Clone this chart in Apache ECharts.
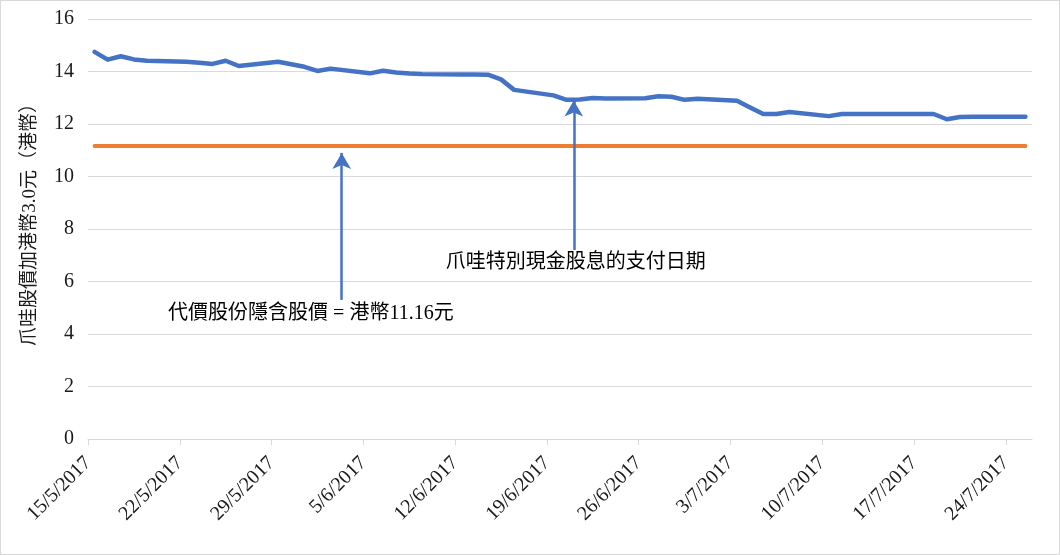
<!DOCTYPE html>
<html>
<head>
<meta charset="utf-8">
<script src="https://cdn.jsdelivr.net/npm/echarts@6/dist/echarts.min.js"></script>
<style>
  html, body { margin: 0; padding: 0; background: #fff; }
  #chart { width: 1058px; height: 553px; border: 1px solid #d9d9d9; }
</style>
</head>
<body>
<div id="chart"></div>
<script>
// trading days (HK), 2017
const tradeDates = [
  '2017-05-15', '2017-05-16', '2017-05-17', '2017-05-18', '2017-05-19',
  '2017-05-22', '2017-05-23', '2017-05-24', '2017-05-25', '2017-05-26',
  '2017-05-29', '2017-05-31', '2017-06-01', '2017-06-02',
  '2017-06-05', '2017-06-06', '2017-06-07', '2017-06-08', '2017-06-09',
  '2017-06-12', '2017-06-13', '2017-06-14', '2017-06-15', '2017-06-16',
  '2017-06-19', '2017-06-20', '2017-06-21', '2017-06-22', '2017-06-23',
  '2017-06-26', '2017-06-27', '2017-06-28', '2017-06-29', '2017-06-30',
  '2017-07-03', '2017-07-04', '2017-07-05', '2017-07-06', '2017-07-07',
  '2017-07-10', '2017-07-11', '2017-07-12', '2017-07-13', '2017-07-14',
  '2017-07-17', '2017-07-18', '2017-07-19', '2017-07-20', '2017-07-21',
  '2017-07-24', '2017-07-25',
];
// 爪哇股價加港幣3.0元
const prices = [
  14.75, 14.45, 14.58, 14.46, 14.41,
  14.37, 14.33, 14.29, 14.41, 14.21,
  14.37, 14.18, 14.02, 14.11,
  13.93, 14.03, 13.96, 13.92, 13.90,
  13.89, 13.89, 13.88, 13.70, 13.30,
  13.09, 12.92, 12.93, 12.99, 12.97,
  12.98, 13.06, 13.04, 12.92, 12.96,
  12.89, 12.63, 12.38, 12.38, 12.46,
  12.30, 12.38, 12.38, 12.38, 12.38,
  12.38, 12.38, 12.18, 12.27, 12.28,
  12.28, 12.28,
];
const impliedPrice = 11.16;
const firstDay = '2017-05-15';
const weekTicks = [0, 7, 14, 21, 28, 35, 42, 49, 56, 63, 70];
const payDate = '2017-06-21';

const dayMs = 24 * 3600 * 1000;
const base = new Date(firstDay + 'T00:00:00Z').getTime();
// each trading day sits in the middle of its day slot
const dayPos = (s) => (new Date(s + 'T00:00:00Z').getTime() - base) / dayMs + 0.5;

const priceData = tradeDates.map((d, i) => [dayPos(d), prices[i]]);
const impliedData = tradeDates.map((d) => [dayPos(d), impliedPrice]);

const chart = echarts.init(document.getElementById('chart'));
const serif = '"Liberation Serif", "Noto Sans CJK TC", serif';

chart.setOption({
  animation: false,
  grid: { left: 87, right: 27, top: 18, bottom: 115 },
  xAxis: {
    type: 'value',
    min: 0,
    max: 72,
    axisLine: { lineStyle: { color: '#d9d9d9', width: 1 } },
    axisTick: { show: true, length: 6, lineStyle: { color: '#d9d9d9' }, customValues: weekTicks },
    splitLine: { show: false },
    axisLabel: {
      customValues: weekTicks,
      rotate: 45,
      margin: 21,
      color: '#1a1a1a',
      fontSize: 20,
      fontFamily: serif,
      formatter(v) {
        const dt = new Date(base + v * dayMs);
        return `${dt.getUTCDate()}/${dt.getUTCMonth() + 1}/${dt.getUTCFullYear()}`;
      },
    },
  },
  yAxis: {
    type: 'value',
    min: 0,
    max: 16,
    interval: 2,
    name: '爪哇股價加港幣3.0元（港幣）',
    nameLocation: 'middle',
    nameGap: 48,
    nameRotate: 90,
    nameTextStyle: { fontSize: 19, color: '#1a1a1a', fontFamily: serif, padding: [0, 0, 0, 18] },
    axisLine: { show: false },
    axisTick: { show: false },
    splitLine: { lineStyle: { color: '#d9d9d9', width: 1 } },
    axisLabel: { margin: 14, color: '#1a1a1a', fontSize: 20, fontFamily: serif },
  },
  series: [
    {
      name: '爪哇股價加港幣3.0元',
      type: 'line',
      data: priceData,
      showSymbol: false,
      lineStyle: { color: '#4472c4', width: 4.5, cap: 'round', join: 'round' },
      z: 3,
      markLine: {
        silent: true,
        symbol: ['none', 'arrow'],
        symbolSize: [14, 16],
        lineStyle: { color: '#4472c4', width: 2.5, type: 'solid' },
        label: { show: false },
        data: [
          [{ coord: [19.35, 5.3] }, { coord: [19.35, 10.9] }],
          [{ coord: [37.05, 7.2] }, { coord: [37.05, 12.9] }],
        ],
      },
      markPoint: {
        silent: true,
        symbol: 'circle',
        symbolSize: 0,
        label: {
          show: true,
          position: 'inside',
          color: '#000',
          fontSize: 20,
          fontFamily: serif,
        },
        data: [
          { coord: [17.0, 4.76], value: 1, label: { formatter: '代價股份隱含股價 = 港幣11.16元' } },
          { coord: [dayPos(payDate) - 0.3, 6.70], value: 2, label: { formatter: '爪哇特別現金股息的支付日期' } },
        ],
      },
    },
    {
      name: '代價股份隱含股價',
      type: 'line',
      data: impliedData,
      showSymbol: false,
      lineStyle: { color: '#ed7d31', width: 4, cap: 'round' },
      z: 2,
    },
  ],
});
</script>
</body>
</html>
